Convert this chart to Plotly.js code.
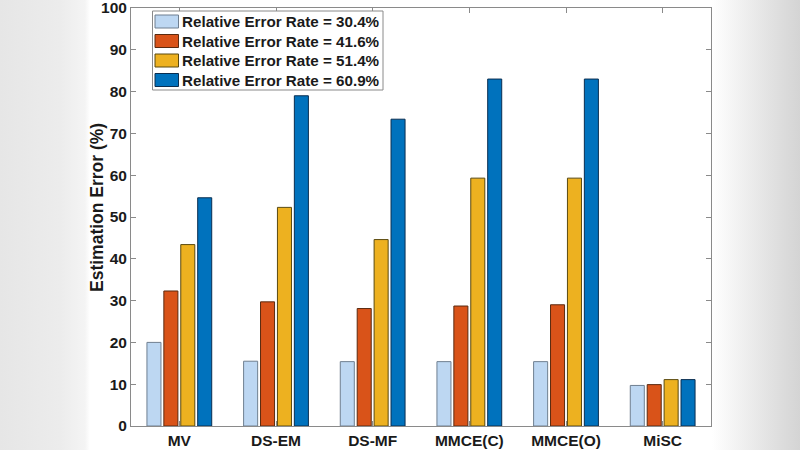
<!DOCTYPE html>
<html><head><meta charset="utf-8">
<script src="https://cdn.plot.ly/plotly-3.0.1.min.js"></script>
<style>
html,body{margin:0;padding:0;}
#wrap{width:800px;height:450px;background:linear-gradient(to right,#e6e6e6 0px,#ececec 60px,#f4f4f4 85px,#ffffff 90px,#ffffff 712px,#f6f6f6 730px,#e2e2e2 770px,#d4d4d4 800px);}
#chart{width:800px;height:450px;}
</style></head>
<body><div id="wrap"><div id="chart"></div></div>
<script>
const categories = ['MV','DS-EM','DS-MF','MMCE(C)','MMCE(O)','MiSC'];
const seriesNames = ['Relative Error Rate = 30.4%','Relative Error Rate = 41.6%','Relative Error Rate = 51.4%','Relative Error Rate = 60.9%'];
const rate304 = [20.0, 15.5, 15.4, 15.4, 15.4, 9.7];
const rate416 = [32.3, 29.7, 28.1, 28.7, 29.0, 9.9];
const rate514 = [43.4, 52.3, 44.6, 59.3, 59.3, 11.1];
const rate609 = [54.6, 79.0, 73.4, 83.0, 83.0, 11.1];
const yTicks = [0,10,20,30,40,50,60,70,80,90,100];
const yTitle = 'Estimation Error (%)';

const colors = ['#bdd7f2','#d95319','#edb120','#0072bd'];
const lineColors = ['#6f7f90','#5a2a10','#5a4a10','#0a2e50'];
const allSeries = [rate304, rate416, rate514, rate609];
const xIdx = categories.map((c,i)=>i);
const traces = allSeries.map((vals,k)=>({
  type:'bar', x:xIdx, y:vals, name:seriesNames[k],
  marker:{color:colors[k], line:{color:lineColors[k], width:1}}
}));

// plot-area geometry (pixels) for the legend box
const M = {l:131, r:89, t:8, b:24};
const PW = 800 - M.l - M.r, PH = 450 - M.t - M.b;
const px = x => (x - M.l) / PW;
const py = y => (450 - M.b - y) / PH;

const fam = '"Liberation Sans", Arial, sans-serif';
const shapes = [];
const annotations = [];
// legend frame
shapes.push({type:'rect', xref:'paper', yref:'paper', x0:px(152.5), x1:px(383), y0:py(11), y1:py(90),
  fillcolor:'#ffffff', line:{color:'#8a8a8a', width:1}, layer:'above'});
seriesNames.forEach((name,k)=>{
  const cy = 21.5 + k*19.5;
  shapes.push({type:'rect', xref:'paper', yref:'paper', x0:px(155), x1:px(178.5), y0:py(cy-6.5), y1:py(cy+6.5),
    fillcolor:colors[k], line:{color:lineColors[k], width:1}, layer:'above'});
  annotations.push({xref:'paper', yref:'paper', x:px(180), y:py(cy), xanchor:'left', yanchor:'middle',
    text:'<b>'+name+'</b>', showarrow:false, font:{family:fam, size:15.2, color:'#1a1a1a'}});
});
// y-axis title placed close to the tick labels
annotations.push({xref:'paper', yref:'paper', x:px(97), y:py(208), xanchor:'center', yanchor:'middle',
  textangle:-90, text:'<b>'+yTitle+'</b>', showarrow:false, font:{family:fam, size:17.5, color:'#1a1a1a'}});

const layout = {
  width:800, height:450,
  paper_bgcolor:'rgba(0,0,0,0)', plot_bgcolor:'#ffffff',
  margin:{l:M.l, r:M.r, t:M.t, b:M.b, pad:0},
  barmode:'group', bargap:0.3, bargroupgap:0.17,
  font:{family:fam, size:15, color:'#1a1a1a'},
  showlegend:false,
  shapes:shapes, annotations:annotations,
  xaxis:{range:[-0.5,5.5], tickmode:'array', tickvals:xIdx, ticktext:categories.map(c=>'<b>'+c+'</b>'),
    ticks:'inside', ticklen:5, tickcolor:'#8a8a8a', showline:true, linecolor:'#8a8a8a', linewidth:1,
    mirror:'ticks', showgrid:false, zeroline:false, tickfont:{family:fam,size:15.5,color:'#1a1a1a'}},
  yaxis:{range:[0,100], tickmode:'array', tickvals:yTicks, ticktext:yTicks.map(v=>'<b>'+v+'</b>'),
    ticks:'inside', ticklen:5, tickcolor:'#8a8a8a', showline:true, linecolor:'#8a8a8a', linewidth:1,
    ticklabeloverflow:'allow',
    mirror:'ticks', showgrid:false, zeroline:false, tickfont:{family:fam,size:15.5,color:'#1a1a1a'}}
};
Plotly.newPlot('chart', traces, layout, {displayModeBar:false, staticPlot:true});
</script></body></html>
